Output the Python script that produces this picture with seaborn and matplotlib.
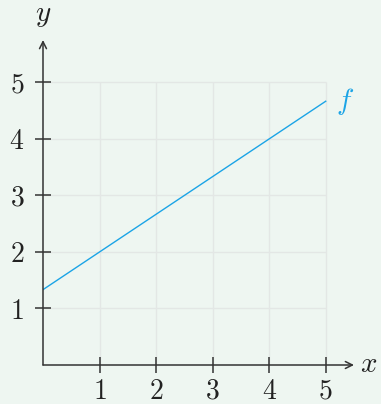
import matplotlib
matplotlib.use("Agg")
import matplotlib.pyplot as plt
import seaborn as sns
import pandas as pd

# f(x) = 2/3 x + 4/3 sampled at the ends of the domain
f_x = [0, 5]
f_y = [4 / 3, 14 / 3]
x_ticks = [1, 2, 3, 4, 5]
y_ticks = [1, 2, 3, 4, 5]
x_tick_labels = ["1", "2", "3", "4", "5"]
y_tick_labels = ["1", "2", "3", "4", "5"]

bg = "#eef6f1"
axis_col = "#333333"
grid_col = "#e3e7e5"
line_col = "#1ba4e6"

plt.rcParams["mathtext.fontset"] = "cm"
plt.rcParams["font.family"] = ["serif"]
plt.rcParams["font.serif"] = ["cmr10", "DejaVu Serif"]
plt.rcParams["axes.formatter.use_mathtext"] = True

fig = plt.figure(figsize=(3.81, 4.04), dpi=100, facecolor=bg)
ax = fig.add_axes([43 / 381, 39 / 404, 311 / 381, 325 / 404])
ax.set_facecolor(bg)

xmax, ymax = 5.5, 5.75
ax.set_xlim(0, xmax)
ax.set_ylim(0, ymax)

# grid only over the [0, 5] x [0, 5] box
ax.hlines(y_ticks, 0, 5, colors=grid_col, linewidth=1.0, zorder=0)
ax.vlines(x_ticks, 0, 5, colors=grid_col, linewidth=1.0, zorder=0)

df = pd.DataFrame({"x": f_x, "y": f_y})
sns.lineplot(data=df, x="x", y="y", ax=ax, color=line_col, linewidth=1.0, zorder=3)

for s in ax.spines.values():
    s.set_visible(False)

# axis lines with arrow heads
arrow_kw = dict(arrowstyle="->,head_length=0.5,head_width=0.25", color=axis_col,
                lw=1.1, shrinkA=0, shrinkB=0)
ax.annotate("", xy=(xmax, 0), xytext=(0, 0), arrowprops=arrow_kw,
            annotation_clip=False, zorder=4)
ax.annotate("", xy=(0, ymax), xytext=(0, 0), arrowprops=arrow_kw,
            annotation_clip=False, zorder=4)

ax.set_xticks(x_ticks)
ax.set_yticks(y_ticks)
ax.set_xticklabels([f"${t}$" for t in x_tick_labels])
ax.set_yticklabels([f"${t}$" for t in y_tick_labels])
ax.tick_params(direction="inout", length=11, width=1.1, color=axis_col,
               labelsize=20, labelcolor="#222222")
ax.tick_params(axis="x", pad=4)
ax.tick_params(axis="y", pad=8)
ax.set_xlabel("")
ax.set_ylabel("")

ax.text(xmax + 0.1, 0, "$x$", fontsize=21, ha="left", va="center",
        color="#222222", clip_on=False)
ax.text(0, ymax + 0.42, "$y$", fontsize=21, ha="center", va="center",
        color="#222222", clip_on=False)
ax.text(f_x[-1] + 0.35, f_y[-1], "$f$", fontsize=21, ha="center", va="center",
        color=line_col, clip_on=False)

fig.savefig("out.png", dpi=100, facecolor=bg)
